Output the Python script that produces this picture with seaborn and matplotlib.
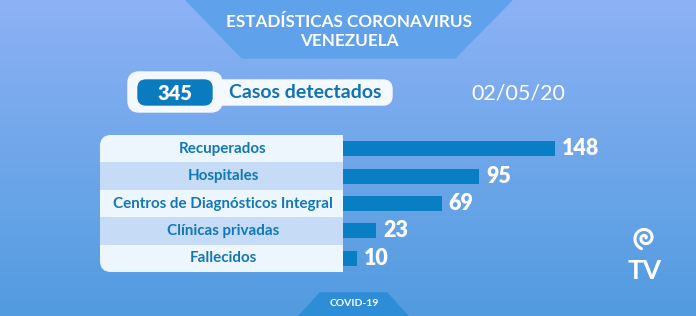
import numpy as np
import seaborn as sns
import matplotlib.pyplot as plt
from matplotlib.patches import FancyBboxPatch, Rectangle, Polygon
from matplotlib import transforms

categorias = ['Recuperados', 'Hospitales', 'Centros de Diagnósticos Integral',
              'Clínicas privadas', 'Fallecidos']
valores = [148, 95, 69, 23, 10]
total_casos = 345
fecha = '02/05/20'
titulo = ['ESTADÍSTICAS CORONAVIRUS', 'VENEZUELA']

sns.set_style('white')
plt.rcParams['font.family'] = ['Lato', 'DejaVu Sans']

W, H = 696, 316
fig = plt.figure(figsize=(W / 100, H / 100), dpi=100)

# fondo con degradado
bg = fig.add_axes([0, 0, 1, 1])
bg.set_xlim(0, W)
bg.set_ylim(H, 0)
bg.axis('off')
top = np.array([0x8c, 0xb2, 0xf5]) / 255
bot = np.array([0x52, 0x9b, 0xdf]) / 255
t = np.linspace(0, 1, 200)[:, None, None]
grad = top * (1 - t) + bot * t
grad = np.repeat(grad, 2, axis=1)
bg.imshow(grad, extent=[0, W, H, 0], aspect='auto', zorder=0)

# banner del titulo
bg.add_patch(Polygon([(186, 0), (512, 0), (455, 58), (242, 58)], closed=True,
                     color='#5fa1ea', zorder=1))
bg.text(349, 22, titulo[0], color='white', fontsize=12.3, fontweight='bold',
        ha='center', va='center', zorder=2)
bg.text(349, 41, titulo[1], color='white', fontsize=12.3, fontweight='bold',
        ha='center', va='center', zorder=2)

# casos detectados
bg.add_patch(FancyBboxPatch((130, 80), 262, 25, boxstyle='round,pad=0,rounding_size=9',
                            color='#f4f9ff', zorder=2))
bg.add_patch(FancyBboxPatch((128, 72), 94, 40, boxstyle='round,pad=0,rounding_size=11',
                            color='#f4f9ff', zorder=2))
bg.add_patch(FancyBboxPatch((138, 80), 74, 25, boxstyle='round,pad=0,rounding_size=8',
                            color='#0b7bbf', zorder=3))
bg.text(175, 93, str(total_casos), color='white', fontsize=14.5, fontweight='heavy',
        ha='center', va='center', zorder=4)
bg.text(305, 92, 'Casos detectados', color='#1372b3', fontsize=14, fontweight='bold',
        ha='center', va='center', zorder=4)
bg.text(518, 93, fecha, color='white', fontsize=15.5, ha='center', va='center', zorder=4)

# caja de etiquetas
y0, y1 = 135, 272
x0, x1 = 100, 343
rh = (y1 - y0) / len(categorias)
bg.add_patch(FancyBboxPatch((x0, y0), x1 - x0, y1 - y0,
                            boxstyle='round,pad=0,rounding_size=11',
                            fc='#eef6fd', ec='none', zorder=2))
bg.add_patch(Rectangle((x1 - 20, y0), 20, y1 - y0, fc='#eef6fd', ec='none', zorder=2))
for i in range(len(categorias)):
    if i % 2 == 1:
        bg.add_patch(Rectangle((x0, y0 + i * rh), x1 - x0, rh, fc='#c6dcf6', ec='none',
                               zorder=3))

# pestaña COVID-19
bg.add_patch(Polygon([(299, H), (320, 293), (387, 293), (408, H)], closed=True,
                     color='#2d8ed7', zorder=1))
bg.text(354, 304, 'COVID-19', color='white', fontsize=7.5, fontweight='bold',
        ha='center', va='center', zorder=2)

# logo TV
th = np.linspace(0, 3.4 * np.pi, 300)
r = 1.0 + 3.0 * th / np.pi
bg.plot(645 + r * np.cos(th), 238 - r * np.sin(th), color='white', lw=2.2, zorder=2)
bg.text(645, 271, 'TV', color='white', fontsize=19, fontweight='bold',
        ha='center', va='center', zorder=2)

# barras
x_end = 555
ax = fig.add_axes([x1 / W, 1 - y1 / H, (x_end - x1) / W, (y1 - y0) / H])
ax.patch.set_alpha(0)
sns.barplot(x=valores, y=categorias, orient='h', color='#0a7ec3', width=0.55,
            saturation=1, linewidth=0, ax=ax)
ax.set_xlim(0, max(valores))
ax.set_ylim(len(categorias) - 0.5, -0.5)
ax.axis('off')

for i, v in enumerate(valores):
    ax.annotate(str(v), (v, i), xytext=(5, 0), textcoords='offset points',
                color='white', fontsize=15.5, fontweight='heavy',
                ha='left', va='center', annotation_clip=False)

lab_tr = transforms.blended_transform_factory(bg.transData, ax.transData)
for i, c in enumerate(categorias):
    ax.text(223, i, c, transform=lab_tr, color='#1277b6', fontsize=10.9,
            fontweight='bold', ha='center', va='center', zorder=5)

fig.savefig('out.png', dpi=100)
